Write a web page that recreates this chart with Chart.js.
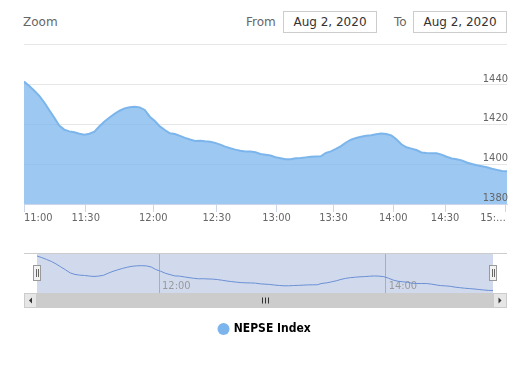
<!DOCTYPE html>
<html>
<head>
<meta charset="utf-8">
<script src="https://cdn.jsdelivr.net/npm/chart.js@4.4.0/dist/chart.umd.min.js"></script>
<style>
body{margin:0;width:531px;height:374px;background:#fff;position:relative;overflow:hidden;font-family:"DejaVu Sans",sans-serif;}
.lbl{position:absolute;font-size:12px;color:#666;line-height:14px;}
.box{position:absolute;top:11px;width:92px;height:20px;border:1px solid #ccc;font-size:12px;color:#333;text-align:center;line-height:20px;}
.rule{position:absolute;left:24px;top:44px;width:483px;height:1px;background:#e6e6e6;}
#main{position:absolute;left:0;top:60px;}
#nav{position:absolute;left:0;top:250px;}
</style>
</head>
<body>
<div class="lbl" style="left:23px;top:15px">Zoom</div>
<div class="lbl" style="left:246px;top:15px">From</div>
<div class="box" style="left:283px">Aug 2, 2020</div>
<div class="lbl" style="left:394px;top:15px">To</div>
<div class="box" style="left:413px">Aug 2, 2020</div>
<div class="rule"></div>
<canvas id="main" width="531" height="170"></canvas>
<canvas id="nav" width="531" height="95"></canvas>
<script>
// NEPSE index, 2 Aug 2020, one value per equally spaced trading point
const values = [
  1441.7, 1439.6, 1437.2, 1434.6, 1431.3, 1427.4, 1423.6, 1419.5, 1417.5, 1416.6,
  1416.2, 1415.4, 1414.9, 1415.4, 1416.4, 1419.2, 1421.6, 1423.6, 1425.4, 1427.0,
  1428.2, 1428.8, 1429.0, 1428.7, 1427.4, 1424.0, 1421.8, 1419.1, 1417.3, 1415.6,
  1415.3, 1414.3, 1413.3, 1412.5, 1411.8, 1411.9, 1411.6, 1411.4, 1410.8, 1409.9,
  1408.9, 1408.1, 1407.4, 1406.8, 1406.5, 1406.4, 1406.1, 1405.2, 1404.8, 1404.4,
  1403.6, 1403.1, 1402.6, 1402.6, 1403.0, 1403.2, 1403.5, 1403.8, 1403.9, 1404.0,
  1405.8, 1406.5, 1407.8, 1409.2, 1411.0, 1412.4, 1413.3, 1413.9, 1414.4, 1414.7,
  1415.2, 1415.5, 1415.3, 1414.6, 1412.6, 1410.1, 1408.6, 1407.9, 1407.2, 1406.0,
  1405.7, 1405.6, 1405.6, 1404.9, 1403.8, 1402.9, 1402.5, 1402.0, 1400.9, 1400.2,
  1399.5, 1399.0, 1398.5, 1397.8, 1397.2, 1396.6, 1396.5
];
const tickPos = [0, 12.26, 25.7, 38.3, 50.2, 61.5, 73.4, 83.7, 95.8];
const tickLabels = ['11:00', '11:30', '12:00', '12:30', '13:00', '13:30', '14:00', '14:30', '15:…'];
const navTicks = [2, 6]; // indexes into tickPos / tickLabels shown in the navigator
const yTicks = [1380, 1400, 1420, 1440];
const seriesName = 'NEPSE Index';

const points = values.map((v, i) => ({x: i, y: v}));
const axisFont = {family: '"DejaVu Sans Condensed","DejaVu Sans",sans-serif', size: 11};

new Chart(document.getElementById('main'), {
  type: 'line',
  data: {
    datasets: [{
      label: seriesName,
      data: points,
      borderColor: '#7cb5ec',
      borderWidth: 2,
      backgroundColor: 'rgba(124,181,236,0.75)',
      fill: 'start',
      pointRadius: 0,
      tension: 0
    }]
  },
  options: {
    responsive: false,
    animation: false,
    layout: {padding: {left: 24, right: 24, top: 19, bottom: 0}},
    plugins: {legend: {display: false}, tooltip: {enabled: false}},
    scales: {
      x: {
        type: 'linear',
        min: 0,
        max: values.length - 1,
        afterBuildTicks: s => { s.ticks = tickPos.map(v => ({value: v})); },
        afterFit: s => { s.height = 26; },
        ticks: {
          autoSkip: false,
          maxRotation: 0,
          align: 'inner',
          padding: 0,
          color: '#666',
          font: axisFont,
          callback: (v, i) => tickLabels[i]
        },
        grid: {drawOnChartArea: false, tickLength: 8, color: '#ccd6eb'},
        border: {color: '#ccd6eb'}
      },
      y: {
        position: 'right',
        min: 1380,
        max: 1443,
        afterBuildTicks: s => { s.ticks = yTicks.map(v => ({value: v})); },
        afterFit: s => { s.width = 0; },
        ticks: {
          mirror: true, padding: 1, labelOffset: -6, z: 1,
          color: '#666', font: axisFont,
          callback: v => String(v)
        },
        grid: {color: '#e6e6e6', drawTicks: false},
        border: {display: false}
      }
    }
  }
});

const navDecor = {
  id: 'navDecor',
  beforeDatasetsDraw(chart) {
    const {ctx, chartArea: a} = chart;
    const xs = chart.scales.x;
    ctx.save();
    ctx.fillStyle = 'rgba(102,133,194,0.3)';
    ctx.fillRect(a.left, a.top, a.right - a.left, a.bottom - a.top);
    ctx.fillStyle = '#999';
    ctx.font = '11px "DejaVu Sans Condensed","DejaVu Sans",sans-serif';
    ctx.textBaseline = 'middle';
    navTicks.forEach(k => {
      ctx.fillText(tickLabels[k], xs.getPixelForValue(tickPos[k]) + 3, a.bottom - 7);
    });
    ctx.restore();
  },
  afterDatasetsDraw(chart) {
    const {ctx, chartArea: a} = chart;
    const L = 24, R = 507;
    ctx.save();
    // outline
    ctx.strokeStyle = '#cccccc';
    ctx.lineWidth = 1;
    ctx.beginPath();
    ctx.moveTo(L, a.top - 0.5);
    ctx.lineTo(R, a.top - 0.5);
    ctx.stroke();
    // scrollbar
    const st = a.bottom, sh = 15;
    ctx.fillStyle = '#f2f2f2';
    ctx.fillRect(L, st, R - L, sh);
    ctx.fillStyle = '#cccccc';
    ctx.fillRect(a.left, st, a.right - a.left, sh);
    ctx.fillStyle = '#e6e6e6';
    ctx.fillRect(L, st, a.left - L, sh);
    ctx.fillRect(a.right, st, R - a.right, sh);
    ctx.strokeStyle = '#cccccc';
    ctx.strokeRect(L + 0.5, st + 0.5, a.left - L - 1, sh - 1);
    ctx.strokeRect(a.right + 0.5, st + 0.5, R - a.right - 1, sh - 1);
    ctx.fillStyle = '#333';
    const cy = st + sh / 2;
    let cx = (L + a.left) / 2;
    ctx.beginPath(); ctx.moveTo(cx - 1.5, cy); ctx.lineTo(cx + 1.5, cy - 3); ctx.lineTo(cx + 1.5, cy + 3); ctx.fill();
    cx = (a.right + R) / 2;
    ctx.beginPath(); ctx.moveTo(cx + 1.5, cy); ctx.lineTo(cx - 1.5, cy - 3); ctx.lineTo(cx - 1.5, cy + 3); ctx.fill();
    const gx = Math.round((a.left + a.right) / 2);
    ctx.strokeStyle = '#333';
    [-3, 0, 3].forEach(d => {
      ctx.beginPath(); ctx.moveTo(gx + d + 0.5, cy - 3); ctx.lineTo(gx + d + 0.5, cy + 3); ctx.stroke();
    });
    // handles
    [a.left, a.right].forEach(hx => {
      hx = Math.round(hx);
      ctx.fillStyle = '#f2f2f2';
      ctx.strokeStyle = '#999';
      ctx.fillRect(hx - 3.5, 265.5 - 250, 7, 15);
      ctx.strokeRect(hx - 3.5, 265.5 - 250, 7, 15);
      ctx.strokeStyle = '#666';
      [-1, 1].forEach(d => {
        ctx.beginPath(); ctx.moveTo(hx + d + 0.5, 269 - 250); ctx.lineTo(hx + d + 0.5, 277 - 250); ctx.stroke();
      });
    });
    ctx.restore();
  }
};

new Chart(document.getElementById('nav'), {
  type: 'line',
  data: {
    datasets: [{
      label: seriesName,
      data: points,
      borderColor: '#6a8fd4',
      borderWidth: 1,
      backgroundColor: '#7cb5ec',
      fill: false,
      pointRadius: 0,
      pointStyle: 'circle',
      tension: 0
    }]
  },
  options: {
    responsive: false,
    animation: false,
    layout: {padding: {left: 37, right: 38, top: 4, bottom: 0}},
    plugins: {
      tooltip: {enabled: false},
      legend: {
        position: 'bottom',
        labels: {
          usePointStyle: true,
          boxHeight: 8.5,
          boxWidth: 8.5,
          padding: 10,
          color: '#333',
          font: {family: '"DejaVu Sans Condensed","DejaVu Sans",sans-serif', size: 12, weight: 'bold'},
          generateLabels: chart => [{
            text: seriesName,
            fillStyle: '#7cb5ec',
            strokeStyle: '#7cb5ec',
            lineWidth: 0,
            pointStyle: 'circle',
            datasetIndex: 0
          }]
        }
      }
    },
    scales: {
      x: {
        type: 'linear',
        min: 0,
        max: values.length - 1,
        afterBuildTicks: s => { s.ticks = navTicks.map(k => ({value: tickPos[k]})); },
        afterFit: s => { s.height = 20; },
        ticks: {display: false},
        grid: {color: '#b8c2d6', drawTicks: false},
        border: {display: false}
      },
      y: {display: false, min: 1393.2, max: 1444.3}
    }
  },
  plugins: [navDecor]
});
</script>
</body>
</html>
